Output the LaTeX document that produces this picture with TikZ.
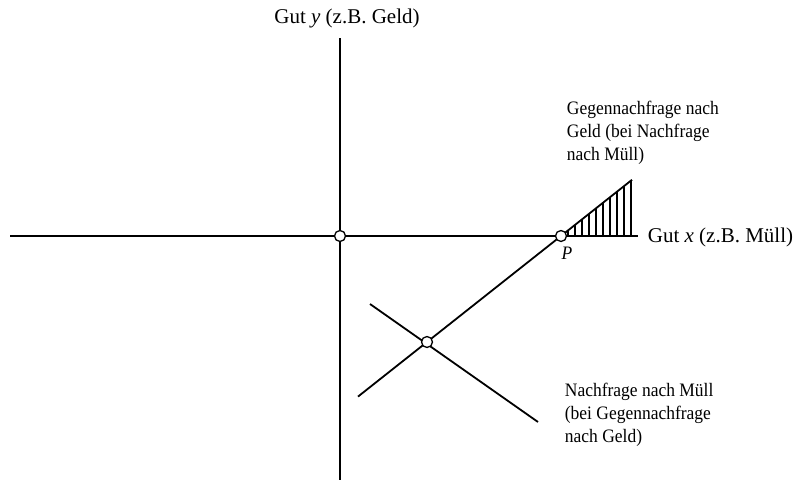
\documentclass[tikz,border=0pt]{standalone}
\usepackage{fontspec}
\setmainfont{Liberation Serif}
\newfontfamily\schmal[FakeStretch=0.92]{Liberation Serif}
\tikzset{
	punkt/.style={circle,draw,fill=white,line width=1.3pt,inner sep=0pt,minimum size=11pt},
	txt/.style={font=\schmal\fontsize{19}{23}\selectfont,align=left,inner sep=0pt},
	achse/.style={font=\fontsize{21}{25}\selectfont,inner sep=0pt},
}
\begin{document}
\begin{tikzpicture} [x=1pt,y=-1pt,line width=1.8pt]
	\useasboundingbox (0,0) rectangle (796,482);
	\def \xa {10}%linkes ende
	\def \xb {638}%rechtes ende
	% achsen
	\coordinate (xl) at (\xa,236);
	\coordinate (xr) at (\xb,236);
	\coordinate (yo) at (340,38);
	\coordinate (yu) at (340,480);
	\draw (xl) -- (xr);
	\draw (yo) -- (yu);
	% hatch
	\foreach \x in {568,575,...,631}{
		\draw[line width=1.2pt] (\x,236) -- (\x,{236-0.791*(\x-561)});
		}
	% kurven
	\coordinate (a1) at (358,396.6);
	\coordinate (a2) at (632,179.8);
	\coordinate (n1) at (370,304);
	\coordinate (n2) at (538,422);
	\draw (a1) -- (a2);
	\draw (n1) -- (n2);
	\node[punkt] (O) at (340,236) {};
	\node[punkt] (P) at (561,236) {};
	\node[punkt] (S) at (427,342) {};
	% legende
	\node[achse] (ly) at (347,18) {Gut \textit{y} (z.B. Geld)};
	\node[achse,anchor=west] (lx) at (647,237) {Gut \textit{x} (z.B. Müll)};
	\node[txt] (lP) at (567,253) {\textit{P}};
	\node[txt,anchor=west] (lg) at (566,133) {Gegennachfrage nach\\Geld (bei Nachfrage\\nach Müll)};
	\node[txt,anchor=west] (ln) at (564,415) {Nachfrage nach Müll\\(bei Gegennachfrage\\nach Geld)};
\end{tikzpicture}
\end{document}
